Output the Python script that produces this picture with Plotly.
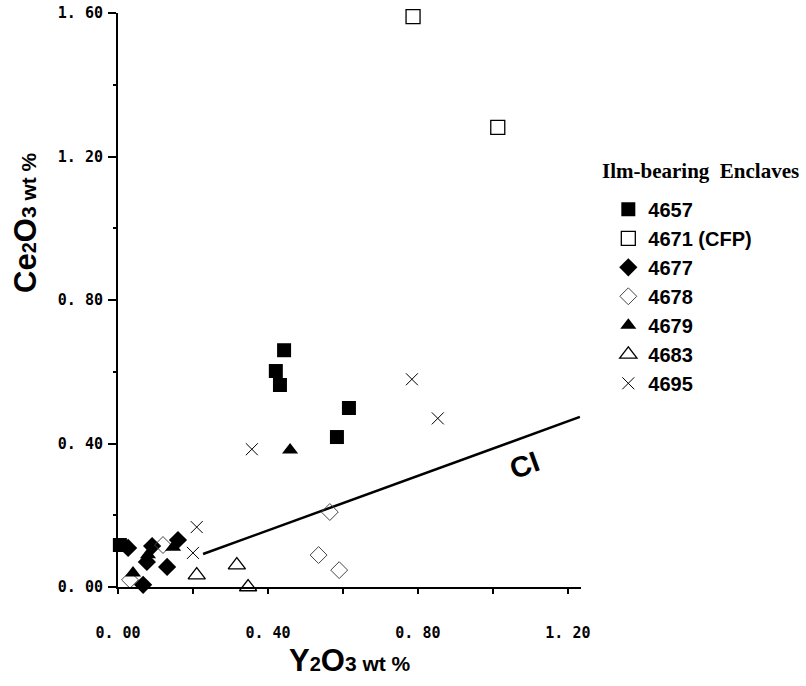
import plotly.graph_objects as go

# ---- data (Y2O3 wt %, Ce2O3 wt %) ----
s4657_x = [0.005, 0.443, 0.421, 0.432, 0.616, 0.584]
s4657_y = [0.117, 0.660, 0.602, 0.563, 0.499, 0.418]
s4671_x = [0.787, 1.013]
s4671_y = [1.590, 1.281]
s4677_x = [0.027, 0.091, 0.077, 0.131, 0.160, 0.067]
s4677_y = [0.109, 0.114, 0.070, 0.056, 0.131, 0.006]
s4678_x = [0.032, 0.120, 0.565, 0.535, 0.590]
s4678_y = [0.020, 0.117, 0.209, 0.089, 0.047]
s4679_x = [0.040, 0.080, 0.147, 0.459]
s4679_y = [0.039, 0.090, 0.111, 0.382]
s4683_x = [0.210, 0.317, 0.347]
s4683_y = [0.033, 0.061, 0.000]
s4695_x = [0.210, 0.200, 0.784, 0.853, 0.357]
s4695_y = [0.167, 0.095, 0.579, 0.470, 0.384]
ci_x = [0.227, 1.232]
ci_y = [0.092, 0.474]

tick_vals = [0.0, 0.4, 0.8, 1.2, 1.6]
x_tick_text = ["0. 00", "0. 40", "0. 80", "1. 20"]
y_tick_text = ["0. 00", "0. 40", "0. 80", "1. 20", "1. 60"]

fig = go.Figure()

fig.add_trace(go.Scatter(x=ci_x, y=ci_y, mode="lines",
                         line=dict(color="black", width=2.5),
                         showlegend=False, hoverinfo="skip"))

def add(name, xs, ys, symbol, size, color="black", lw=1.2, lc="black"):
    fig.add_trace(go.Scatter(
        x=xs, y=ys, mode="markers", name=name, cliponaxis=False,
        marker=dict(symbol=symbol, size=size, color=color,
                    line=dict(color=lc, width=lw))))

add("4657", s4657_x, s4657_y, "square", 14, lw=0)
add("4671 (CFP)", s4671_x, s4671_y, "square-open", 14, lw=1.3)
add("4677", s4677_x, s4677_y, "diamond", 14, lw=0)
add("4678", s4678_x, s4678_y, "diamond-open", 13, color="#444", lw=1.0, lc="#444")
add("4679", s4679_x, s4679_y, "triangle-up", 14, lw=0)
add("4683", s4683_x, s4683_y, "triangle-up-open", 15, lw=1.3)
add("4695", s4695_x, s4695_y, "x-thin", 12, lw=1.0)

tickfont = dict(family="DejaVu Sans Mono", size=15, color="black", weight="bold")

fig.update_layout(
    width=806, height=686,
    margin=dict(l=118, r=225, t=13, b=99, autoexpand=False),
    plot_bgcolor="white", paper_bgcolor="white",
    showlegend=True,
    legend=dict(x=1.059, y=0.692, xanchor="left", yanchor="top",
                font=dict(family="Liberation Sans", size=20, color="black", weight="bold"),
                bgcolor="rgba(0,0,0,0)", tracegroupgap=0),
    xaxis=dict(range=[0, 1.235], showgrid=False, zeroline=False, automargin=False,
               showline=True, linecolor="black", linewidth=2,
               tickmode="array", tickvals=tick_vals[:4], ticktext=x_tick_text,
               ticks="outside", ticklen=5, tickwidth=1.5, tickcolor="black",
               ticklabelstandoff=26, tickfont=tickfont,
               minor=dict(dtick=0.2, tick0=0, ticks="outside", ticklen=5,
                          tickwidth=1.5, tickcolor="black", showgrid=False)),
    yaxis=dict(range=[0, 1.6], showgrid=False, zeroline=False, automargin=False,
               showline=True, linecolor="black", linewidth=2,
               tickmode="array", tickvals=tick_vals, ticktext=y_tick_text,
               ticks="outside", ticklen=8, tickwidth=1.5, tickcolor="black",
               ticklabelstandoff=2, tickfont=tickfont,
               minor=dict(dtick=0.2, tick0=0, ticks="outside", ticklen=3,
                          tickwidth=1.5, tickcolor="black", showgrid=False)),
)

fig.add_annotation(
    xref="paper", yref="paper", x=(350 - 118) / 463, y=(587 - 660) / 574,
    text="<b>Y<span style='font-size:20px'>2</span>O<span style='font-size:21px'>3 wt %</span></b>",
    showarrow=False, font=dict(family="Liberation Sans", size=31, color="black"),
    xanchor="center", yanchor="middle")

fig.add_annotation(
    xref="paper", yref="paper", x=(25 - 118) / 463, y=(587 - 223) / 574,
    text="<b>Ce<span style='font-size:20px'>2</span>O<span style='font-size:21px'>3 wt %</span></b>",
    textangle=-90, showarrow=False,
    font=dict(family="Liberation Sans", size=31, color="black"),
    xanchor="center", yanchor="middle")

fig.add_annotation(
    xref="paper", yref="paper", x=(700 - 118) / 463, y=(587 - 171) / 574,
    text="<b>Ilm-bearing  Enclaves</b>", showarrow=False,
    font=dict(family="Liberation Serif", size=21, color="black"),
    xanchor="center", yanchor="middle")

fig.add_annotation(
    x=1.085, y=0.34, text="<b>CI</b>", textangle=-20, showarrow=False,
    font=dict(family="Liberation Sans", size=29, color="black"),
    xanchor="center", yanchor="middle")

fig.write_html("out.html")
